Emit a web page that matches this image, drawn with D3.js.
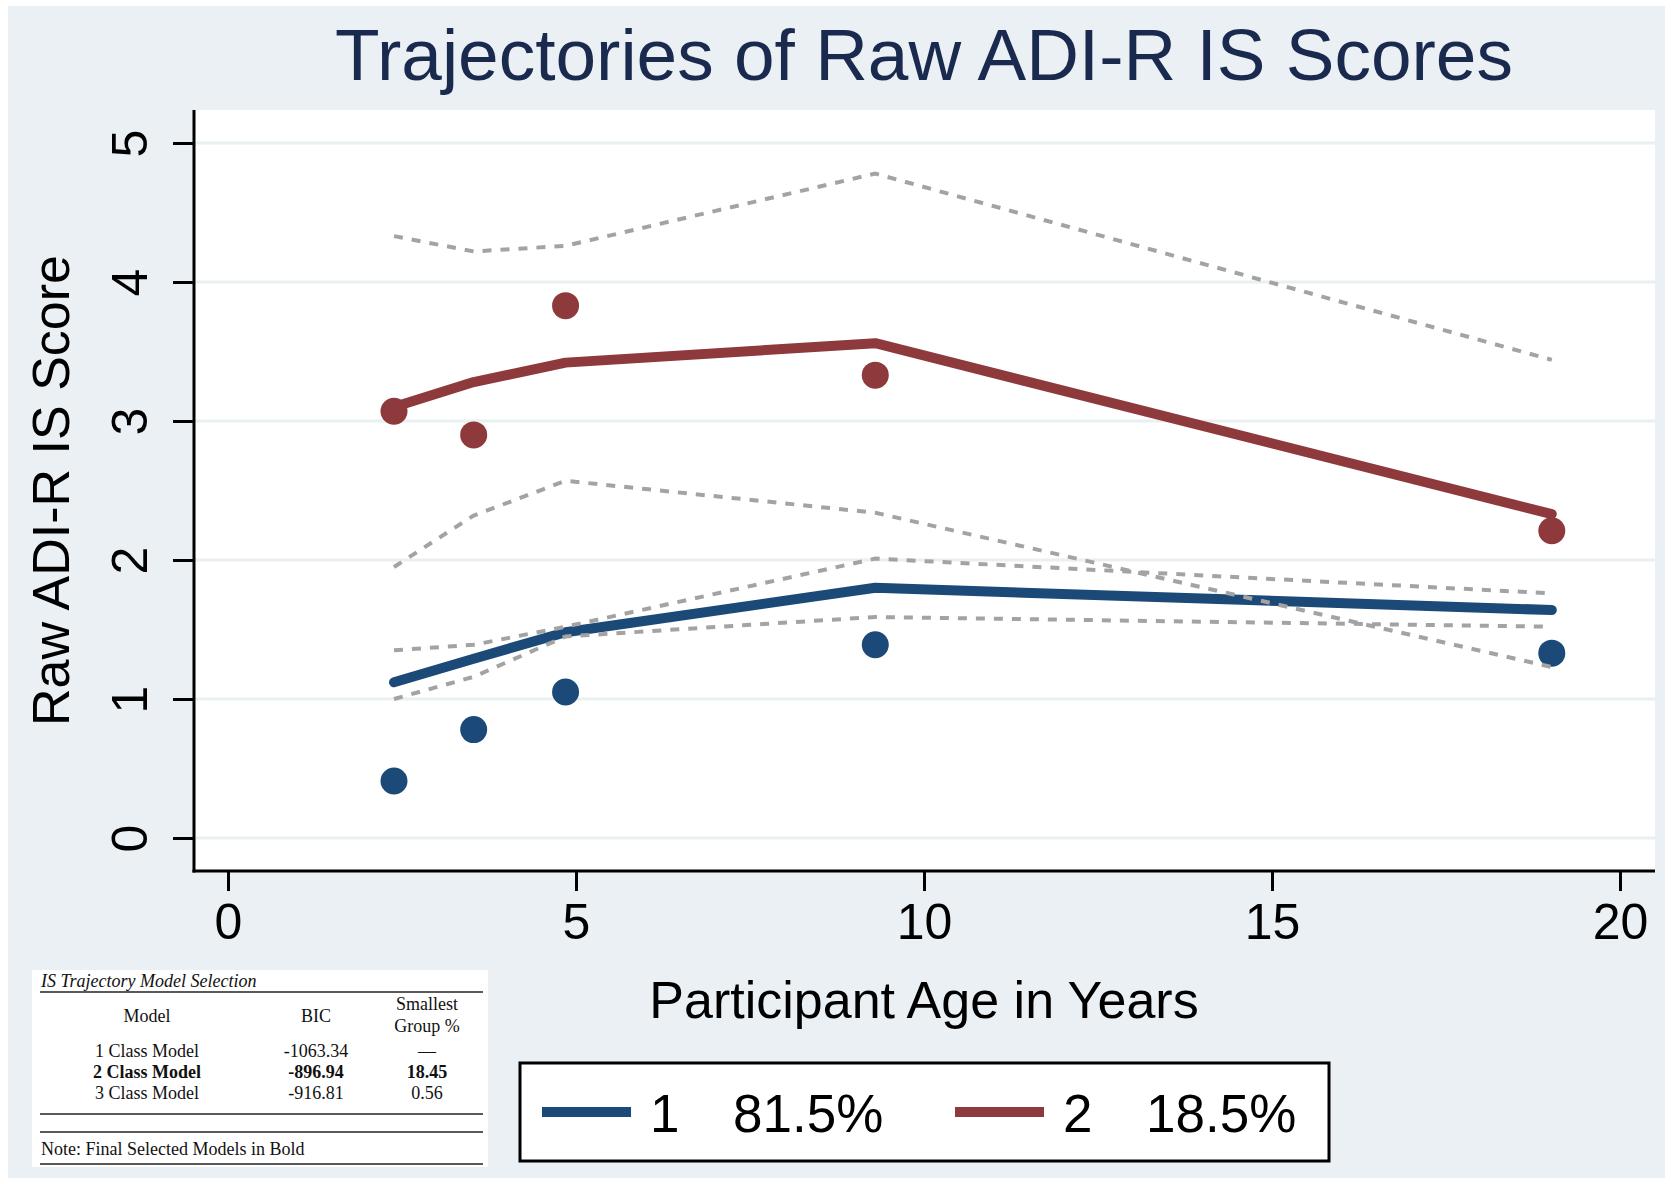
<!DOCTYPE html>
<meta charset="utf-8">
<style>
    body { margin: 0; background: #fff; }
    text { font-family: "Liberation Sans", Arial, sans-serif; fill: #000; }
    .tbl text { font-family: "Liberation Serif", "Times New Roman", serif; font-size: 18px; fill: #111; }
</style>
<body>
<script src="https://cdnjs.cloudflare.com/ajax/libs/d3/7.8.5/d3.min.js"></script>
<script>
    // observed ages (years)
    var ages = [2.385, 3.53, 4.85, 9.3, 19.02];

    // group 1 (81.5%)
    var obs1 = [0.41, 0.78, 1.05, 1.39, 1.33];
    var pred1 = [1.12, 1.29, 1.48, 1.80, 1.64];
    var upper1 = [1.35, 1.39, 1.52, 2.01, 1.76];
    var lower1 = [1.00, 1.16, 1.45, 1.59, 1.52];

    // group 2 (18.5%)
    var obs2 = [3.07, 2.90, 3.83, 3.33, 2.21];
    var pred2 = [3.10, 3.28, 3.42, 3.56, 2.33];
    var upper2 = [4.33, 4.22, 4.26, 4.78, 3.44];
    var lower2 = [1.95, 2.32, 2.57, 2.34, 1.23];

    var xTicks = [0, 5, 10, 15, 20];
    var yTicks = [0, 1, 2, 3, 4, 5];
    var legendLabels = ["1", "2"];
    var legendPcts = ["81.5%", "18.5%"];

    var tableHeader = ["Model", "BIC", "Smallest", "Group %"];
    var tableModels = ["1 Class Model", "2 Class Model", "3 Class Model"];
    var tableBIC = ["-1063.34", "-896.94", "-916.81"];
    var tableSmallest = ["\u2014", "18.45", "0.56"];
    var tableBold = [false, true, false];

    var blue = "#1b4a78", red = "#8e393c", bg = "#eaf0f4", grey = "#a3a3a3";

    var W = 1673, H = 1184;
    var plot = {left: 194, right: 1655, top: 110, bottom: 871};

    var x = d3.scaleLinear().domain([0, 20]).range([228, 1620]);
    var y = d3.scaleLinear().domain([0, 5]).range([838, 143]);

    var svg = d3.select("body").append("svg")
        .attr("width", W)
        .attr("height", H);

    svg.append("rect").attr("x", 8).attr("y", 6)
        .attr("width", W - 16).attr("height", H - 12)
        .attr("fill", bg);

    svg.append("rect")
        .attr("x", plot.left).attr("y", plot.top)
        .attr("width", plot.right - plot.left)
        .attr("height", plot.bottom - plot.top)
        .attr("fill", "#fff");

    // gridlines
    svg.append("g").selectAll("line").data(yTicks).join("line")
        .attr("x1", plot.left).attr("x2", plot.right)
        .attr("y1", d => y(d)).attr("y2", d => y(d))
        .attr("stroke", "#e8f0f2").attr("stroke-width", 3);

    // title
    svg.append("text")
        .attr("x", 924).attr("y", 80)
        .attr("text-anchor", "middle")
        .style("font-size", "73px")
        .style("fill", "#1a2a4f")
        .text("Trajectories of Raw ADI-R IS Scores");

    // axes
    var xAxis = d3.axisBottom(x).tickValues(xTicks).tickSize(20).tickPadding(12);
    var gx = svg.append("g")
        .attr("transform", "translate(0," + plot.bottom + ")")
        .call(xAxis);
    gx.select(".domain").remove();
    gx.selectAll(".tick line").attr("stroke", "#000").attr("stroke-width", 3);
    gx.selectAll(".tick text").style("font-size", "50px").attr("fill", "#000");

    var yAxis = d3.axisLeft(y).tickValues(yTicks).tickFormat(d3.format("d")).tickSize(21).tickPadding(0);
    var gy = svg.append("g")
        .attr("transform", "translate(" + plot.left + ",0)")
        .call(yAxis);
    gy.select(".domain").remove();
    gy.selectAll(".tick line").attr("stroke", "#000").attr("stroke-width", 3);
    gy.selectAll(".tick text")
        .attr("x", null).attr("dy", null)
        .attr("transform", "translate(-47,0) rotate(-90)")
        .attr("text-anchor", "middle")
        .style("font-size", "50px").attr("fill", "#000");

    svg.append("line")
        .attr("x1", plot.left).attr("x2", plot.left)
        .attr("y1", plot.top).attr("y2", plot.bottom + 1.5)
        .attr("stroke", "#000").attr("stroke-width", 3);
    svg.append("line")
        .attr("x1", plot.left - 1.5).attr("x2", plot.right)
        .attr("y1", plot.bottom).attr("y2", plot.bottom)
        .attr("stroke", "#000").attr("stroke-width", 3);

    svg.append("text")
        .attr("transform", "translate(69," + ((y(0) + y(5)) / 2) + ") rotate(-90)")
        .attr("text-anchor", "middle")
        .style("font-size", "52px")
        .text("Raw ADI-R IS Score");

    svg.append("text")
        .attr("x", 924).attr("y", 1018)
        .attr("text-anchor", "middle")
        .style("font-size", "52px")
        .text("Participant Age in Years");

    // series
    var line = d3.line().x((d, i) => x(ages[i])).y(d => y(d));

    var dots = [[obs1, blue], [obs2, red]];
    dots.forEach(function(s) {
        svg.append("g").selectAll("circle").data(s[0]).join("circle")
            .attr("cx", (d, i) => x(ages[i]))
            .attr("cy", d => y(d))
            .attr("r", 13.5)
            .attr("fill", s[1]);
    });

    [[pred1, blue], [pred2, red]].forEach(function(s) {
        svg.append("path").datum(s[0])
            .attr("d", line)
            .attr("fill", "none")
            .attr("stroke", s[1])
            .attr("stroke-width", 10)
            .attr("stroke-linecap", "round")
            .attr("stroke-linejoin", "round");
    });

    [upper1, lower1, upper2, lower2].forEach(function(s) {
        svg.append("path").datum(s)
            .attr("d", line)
            .attr("fill", "none")
            .attr("stroke", grey)
            .attr("stroke-width", 4)
            .attr("stroke-dasharray", "9,9");
    });

    // legend
    var lg = svg.append("g");
    lg.append("rect")
        .attr("x", 520).attr("y", 1063)
        .attr("width", 809).attr("height", 98)
        .attr("fill", "#fff").attr("stroke", "#000").attr("stroke-width", 3);
    var legX = [542, 955];
    [blue, red].forEach(function(c, i) {
        lg.append("line")
            .attr("x1", legX[i]).attr("x2", legX[i] + 89)
            .attr("y1", 1112).attr("y2", 1112)
            .attr("stroke", c).attr("stroke-width", 10);
        lg.append("text")
            .attr("x", legX[i] + 108).attr("y", 1132)
            .style("font-size", "53px")
            .text(legendLabels[i]);
        lg.append("text")
            .attr("x", legX[i] + 191).attr("y", 1132)
            .style("font-size", "53px")
            .text(legendPcts[i]);
    });

    // model selection table
    var tb = svg.append("g").attr("class", "tbl");
    tb.append("rect")
        .attr("x", 32).attr("y", 970)
        .attr("width", 456).attr("height", 197)
        .attr("fill", "#fff");
    tb.append("text")
        .attr("x", 41).attr("y", 987)
        .style("font-style", "italic")
        .text("IS Trajectory Model Selection");
    [992, 1114, 1132, 1164].forEach(function(ly) {
        tb.append("line")
            .attr("x1", 40).attr("x2", 483)
            .attr("y1", ly).attr("y2", ly)
            .attr("stroke", "#222").attr("stroke-width", 1.6);
    });
    var colX = [147, 316, 427];
    tb.append("text").attr("x", colX[0]).attr("y", 1022).attr("text-anchor", "middle").text(tableHeader[0]);
    tb.append("text").attr("x", colX[1]).attr("y", 1022).attr("text-anchor", "middle").text(tableHeader[1]);
    tb.append("text").attr("x", colX[2]).attr("y", 1010).attr("text-anchor", "middle").text(tableHeader[2]);
    tb.append("text").attr("x", colX[2]).attr("y", 1032).attr("text-anchor", "middle").text(tableHeader[3]);
    var rowY = [1057, 1078, 1099];
    tableModels.forEach(function(m, i) {
        [m, tableBIC[i], tableSmallest[i]].forEach(function(v, j) {
            tb.append("text")
                .attr("x", colX[j]).attr("y", rowY[i])
                .attr("text-anchor", "middle")
                .style("font-weight", tableBold[i] ? "bold" : "normal")
                .text(v);
        });
    });
    tb.append("text")
        .attr("x", 41).attr("y", 1155)
        .text("Note: Final Selected Models in Bold");
</script>
